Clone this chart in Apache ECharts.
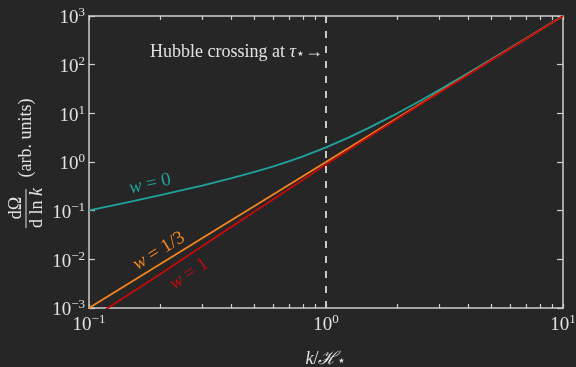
<!DOCTYPE html>
<html><head><meta charset="utf-8">
<script src="https://cdn.jsdelivr.net/npm/echarts@6/dist/echarts.min.js"></script>
<style>html,body{margin:0;padding:0;background:#272627;}#c{width:576px;height:367px;}</style>
</head><body><div id="c"></div>
<script>
// ---- data ----
const kW0 = [0.1, 0.125, 0.15, 0.2, 0.25, 0.3, 0.4, 0.5, 0.6, 0.7, 0.8, 1, 1.25, 1.5, 2, 2.5, 3, 4, 5, 6, 7, 8, 10];
const omegaW0 = [0.101, 0.127, 0.153, 0.208, 0.266, 0.327, 0.464, 0.625, 0.816, 1.04, 1.31, 2.0, 3.2, 4.9, 10.0, 18.1, 30, 68, 130, 222, 350, 520, 1010];
const kW13 = [0.1, 0.3, 1, 3, 10];
const omegaW13 = [0.001, 0.027, 1, 27, 1000];
const kW1 = [0.1, 0.12, 0.15, 0.2, 0.3, 0.4, 0.5, 0.7, 1, 1.5, 2, 3, 5, 10];
const omegaW1 = [0.00052, 0.001, 0.002, 0.005, 0.0186, 0.047, 0.096, 0.282, 0.89, 3.14, 7.64, 26.4, 124, 1000];
const crossingK = [1];
const xMajorTicks = [0.1, 1, 10];
const xAllTicks = [0.1, 0.2, 0.3, 0.4, 0.5, 0.6, 0.7, 0.8, 0.9, 1, 2, 3, 4, 5, 6, 7, 8, 9, 10];
const yMajorTicks = [0.001, 0.01, 0.1, 1, 10, 100, 1000];

const FONT = '"Liberation Serif", "DejaVu Serif", serif';
const TXT = '#e2e2e2';
const AX = '#cfcfcf';
const C0 = '#1fa39c', C13 = '#f5851f', C1 = '#c40a0a';

function pairs(xs, ys) { return xs.map((x, i) => [x, ys[i]]); }
function powLabel(v) {
  const e = Math.round(Math.log10(v));
  return '{b|10}{s|' + (e < 0 ? '\u2212' + (-e) : e) + '}';
}
const powRich = {
  b: { fontSize: 19, fontFamily: FONT, color: TXT, lineHeight: 24 },
  s: { fontSize: 13, fontFamily: FONT, color: TXT, lineHeight: 13, verticalAlign: 'top' }
};

function xAxisDef(pos, showLabel) {
  return {
    type: 'log', logBase: 10, min: 0.1, max: 10, position: pos,
    axisLine: { show: true, onZero: false, lineStyle: { color: AX, width: 1.5 } },
    axisTick: { show: true, inside: true, length: 4, customValues: xAllTicks, lineStyle: { color: AX, width: 1.2 } },
    axisLabel: showLabel ? { show: true, customValues: xMajorTicks, formatter: powLabel, rich: powRich, margin: 5 } : { show: false },
    splitLine: { show: false }, minorTick: { show: false }
  };
}
function yAxisDef(pos, showLabel) {
  return {
    type: 'log', logBase: 10, min: 0.001, max: 1000, position: pos,
    axisLine: { show: true, onZero: false, lineStyle: { color: AX, width: 1.5 } },
    axisTick: { show: true, inside: true, length: 6, customValues: yMajorTicks, lineStyle: { color: AX, width: 1.2 } },
    axisLabel: showLabel ? { show: true, customValues: yMajorTicks, formatter: powLabel, rich: powRich, margin: 4, padding: [5, 0, 0, 0] } : { show: false },
    splitLine: { show: false }
  };
}

const xBottom = xAxisDef('bottom', true);
xBottom.name = '{i|k}{n|/}{h|\u210B}{sub|\u22C6}';
xBottom.nameLocation = 'middle';
xBottom.nameGap = 42;
xBottom.nameTextStyle = {
  rich: {
    i: { fontSize: 18, fontFamily: FONT, fontStyle: 'italic', color: TXT },
    n: { fontSize: 18, fontFamily: FONT, color: TXT },
    h: { fontSize: 18, fontFamily: FONT, fontStyle: 'italic', color: TXT },
    sub: { fontSize: 14, fontFamily: FONT, color: TXT, verticalAlign: 'bottom', lineHeight: 12 }
  }
};

const chart = echarts.init(document.getElementById('c'), null, { renderer: 'canvas' });
const labelFont = (c) => ({
  i: { fontSize: 19, fontFamily: FONT, fontStyle: 'italic', fill: c },
  n: { fontSize: 19, fontFamily: FONT, fill: c }
});
chart.setOption({
  backgroundColor: '#272627',
  animation: false,
  grid: { left: 89, right: 13, top: 16, bottom: 59, containLabel: false, outerBoundsMode: 'none' },
  xAxis: [xBottom, xAxisDef('top', false)],
  yAxis: [yAxisDef('left', true), yAxisDef('right', false)],
  series: [
    { type: 'line', name: 'w = 0', data: pairs(kW0, omegaW0), showSymbol: false, smooth: false,
      lineStyle: { color: C0, width: 1.8 }, itemStyle: { color: C0 }, clip: true },
    { type: 'line', name: 'w = 1/3', data: pairs(kW13, omegaW13), showSymbol: false,
      lineStyle: { color: C13, width: 1.8 }, itemStyle: { color: C13 }, clip: true,
      markLine: { silent: true, symbol: 'none', label: { show: false },
        lineStyle: { color: '#c8c8c8', width: 2, type: [7, 8] },
        data: crossingK.map(k => ({ xAxis: k })) } },
    { type: 'line', name: 'w = 1', data: pairs(kW1, omegaW1), showSymbol: false,
      lineStyle: { color: C1, width: 1.8 }, itemStyle: { color: C1 }, clip: true }
  ],
  graphic: [
    { type: 'text', x: 323, y: 52, style: { text: '{n|Hubble crossing at }{i|\u03C4}{sub|\u22C6}{n|\u2192}', align: 'right', verticalAlign: 'middle',
      rich: {
        n: { fontSize: 18, fontFamily: FONT, fill: TXT },
        i: { fontSize: 18, fontFamily: FONT, fontStyle: 'italic', fill: TXT },
        sub: { fontSize: 14, fontFamily: FONT, fill: TXT, verticalAlign: 'bottom', lineHeight: 10 }
      } } },
    { type: 'text', x: 150, y: 184, rotation: 0.22, style: { text: '{i|w}{n| = 0}', align: 'center', verticalAlign: 'middle', rich: labelFont(C0) } },
    { type: 'text', x: 159, y: 251, rotation: 0.55, style: { text: '{i|w}{n| = 1/3}', align: 'center', verticalAlign: 'middle', rich: labelFont(C13) } },
    { type: 'text', x: 189, y: 274, rotation: 0.58, style: { text: '{i|w}{n| = 1}', align: 'center', verticalAlign: 'middle', rich: labelFont(C1) } },
    // y-axis title: dΩ / d ln k (arb. units)
    { type: 'text', x: 16, y: 208, rotation: Math.PI / 2, style: { text: 'd\u03A9', align: 'center', verticalAlign: 'middle', fontSize: 18, fontFamily: FONT, fill: TXT } },
    { type: 'line', shape: { x1: 26, y1: 189, x2: 26, y2: 228 }, style: { stroke: TXT, lineWidth: 1 } },
    { type: 'text', x: 37, y: 208, rotation: Math.PI / 2, style: { text: '{n|d ln }{i|k}', align: 'center', verticalAlign: 'middle',
      rich: { n: { fontSize: 18, fontFamily: FONT, fill: TXT }, i: { fontSize: 18, fontFamily: FONT, fontStyle: 'italic', fill: TXT } } } },
    { type: 'text', x: 26, y: 138, rotation: Math.PI / 2, style: { text: '(arb. units)', align: 'center', verticalAlign: 'middle', fontSize: 18, fontFamily: FONT, fill: TXT } }
  ]
});
</script>
</body></html>
